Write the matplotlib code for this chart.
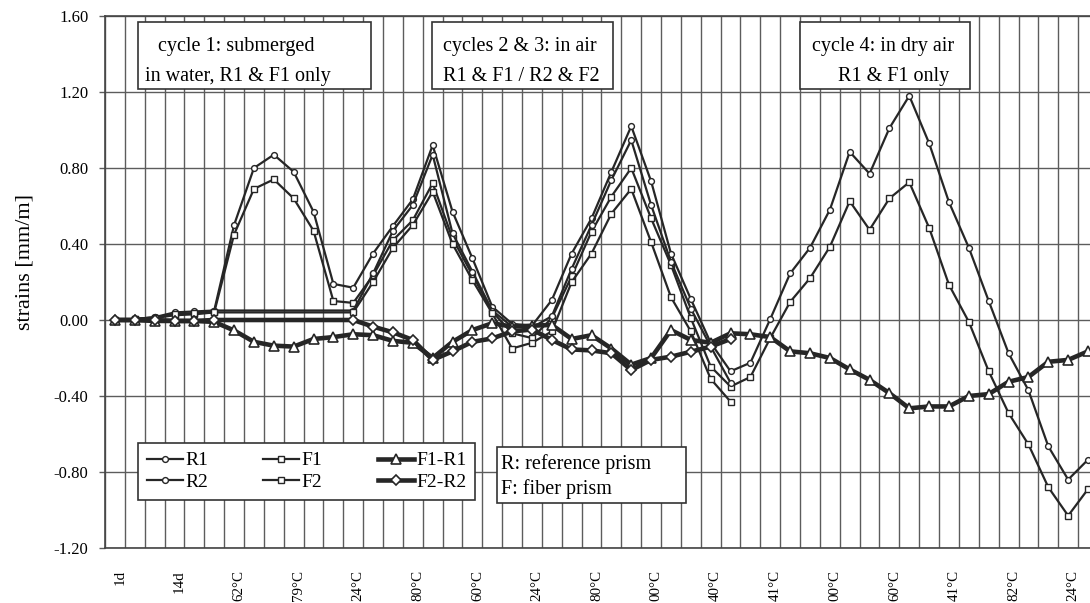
import numpy as np
import matplotlib
matplotlib.use("Agg")
import matplotlib.pyplot as plt
import matplotlib.transforms as mtransforms
from matplotlib.lines import Line2D
from matplotlib.patches import Rectangle
from matplotlib.ticker import FixedLocator

plt.rcParams['font.family'] = ['Liberation Serif', 'DejaVu Serif']

# category labels, one every third reading
x_labels = ['1d', '14d', '62°C', '79°C', '24°C', '80°C', '60°C', '24°C', '80°C',
            '00°C', '40°C', '41°C', '00°C', '60°C', '41°C', '82°C', '24°C']
label_step = 3

nan = np.nan

# strains [mm/m], one value per reading (nan = no measurement, line is connected)
R1 = [0.00, 0.005, 0.015, 0.03, 0.035, 0.05, 0.50, 0.80, 0.87, 0.78,
      0.57, 0.19, 0.17, 0.35, 0.495, 0.635, 0.92, 0.57, 0.325, 0.07,
      -0.02, -0.03, 0.105, 0.35, 0.535, 0.78, 1.02, 0.73, 0.35, 0.11,
      -0.12, -0.27, -0.225, 0.005, 0.245, 0.38, 0.58, 0.885, 0.77, 1.01,
      1.18, 0.93, 0.62, 0.38, 0.10, -0.175, -0.37, -0.665, -0.84, -0.735]
F1 = [0.00, 0.005, 0.01, 0.025, 0.03, 0.04, 0.45, 0.69, 0.74, 0.64,
      0.47, 0.10, 0.09, 0.235, 0.42, 0.525, 0.72, 0.43, 0.237, 0.044,
      -0.07, -0.095, 0.01, 0.23, 0.465, 0.65, 0.80, 0.535, 0.29, 0.01,
      -0.245, -0.35, -0.30, -0.095, 0.095, 0.22, 0.385, 0.625, 0.475, 0.64,
      0.725, 0.485, 0.185, -0.01, -0.27, -0.49, -0.655, -0.88, -1.03, -0.89]
R2 = [0.00, 0.005, 0.015, 0.04, 0.045, 0.05, nan, nan, nan, nan,
      nan, nan, 0.05, 0.245, 0.47, 0.605, 0.87, 0.456, 0.255, 0.05,
      -0.035, -0.04, 0.02, 0.27, 0.50, 0.737, 0.947, 0.605, 0.307, 0.06,
      -0.14, -0.33, nan, nan, nan, nan, nan, nan, nan, nan,
      nan, nan, nan, nan, nan, nan, nan, nan, nan, nan]
F2 = [0.00, 0.005, 0.01, 0.03, 0.035, 0.04, nan, nan, nan, nan,
      nan, nan, 0.04, 0.20, 0.38, 0.50, 0.675, 0.40, 0.21, 0.035,
      -0.15, -0.12, -0.06, 0.20, 0.35, 0.56, 0.69, 0.41, 0.12, -0.06,
      -0.31, -0.43, nan, nan, nan, nan, nan, nan, nan, nan,
      nan, nan, nan, nan, nan, nan, nan, nan, nan, nan]
F1_R1 = [0.00, 0.00, -0.005, -0.005, -0.005, -0.01, -0.055, -0.115, -0.135, -0.14,
         -0.10, -0.09, -0.075, -0.08, -0.11, -0.12, -0.20, -0.115, -0.053, -0.017,
         -0.035, -0.03, -0.026, -0.10, -0.08, -0.15, -0.235, -0.20, -0.053, -0.105,
         -0.12, -0.07, -0.075, -0.09, -0.165, -0.175, -0.20, -0.26, -0.315, -0.385,
         -0.465, -0.455, -0.455, -0.40, -0.39, -0.325, -0.30, -0.22, -0.21, -0.165]
F2_R2 = [0.00, 0.00, 0.00, -0.005, -0.005, 0.00, nan, nan, nan, nan,
         nan, nan, 0.00, -0.035, -0.065, -0.105, -0.21, -0.165, -0.115, -0.097,
         -0.06, -0.05, -0.105, -0.155, -0.16, -0.175, -0.263, -0.21, -0.193, -0.167,
         -0.14, -0.10, nan, nan, nan, nan, nan, nan, nan, nan,
         nan, nan, nan, nan, nan, nan, nan, nan, nan, nan]

W, H = 1090, 603
def fx(x):
    return x / W
def fy(y):
    return 1 - y / H

dark = '#262626'
grid_c = '#5c5c5c'

fig = plt.figure(figsize=(W / 100, H / 100), dpi=100)
ax = fig.add_axes([fx(105), fy(548), fx(1090) - fx(105), fy(16) - fy(548)])

x = np.arange(len(R1))

thin = dict(color=dark, lw=1.6, mfc='white', mec=dark, mew=1.0)
thick = dict(color=dark, lw=3.3, mfc='white', mec=dark, mew=1.2)
series = [
    ('R1', R1, 'o', 4.2, thin),
    ('F1', F1, 's', 3.9, thin),
    ('R2', R2, 'o', 4.2, thin),
    ('F2', F2, 's', 3.9, thin),
    ('F1-R1', F1_R1, '^', 6.5, thick),
    ('F2-R2', F2_R2, 'D', 5.5, thick),
]
for name, vals, mk, ms, st in series:
    y = np.array(vals, dtype=float)
    ok = ~np.isnan(y)
    ax.plot(x[ok], y[ok], marker=mk, ms=ms, label=name, zorder=3, **st)

ax.set_xlim(-0.5, 49.1)
ax.set_ylim(-1.2, 1.6)
yt = np.arange(-1.2, 1.61, 0.4)
ax.set_yticks(yt)
ax.set_yticklabels([f"{v:.2f}" if abs(v) > 1e-9 else "0.00" for v in yt], fontsize=12)
ax.tick_params(axis='y', length=4, width=1, color=grid_c, pad=8)

ax.set_xticks(x[::label_step])
ax.set_xticklabels(x_labels, rotation=90, fontsize=10.8, va='top')
ax.tick_params(axis='x', which='major', length=0, pad=16)
shift = mtransforms.ScaledTranslation(5 / 100, 0, fig.dpi_scale_trans)
for lab in ax.get_xticklabels():
    lab.set_transform(lab.get_transform() + shift)
ax.xaxis.set_minor_locator(FixedLocator(np.arange(-0.5, 50, 1)))
ax.tick_params(axis='x', which='minor', length=0)

ax.grid(which='minor', axis='x', color=grid_c, lw=1.0)
ax.grid(which='major', axis='y', color=grid_c, lw=1.0)
ax.set_axisbelow(True)
for s in ['left', 'bottom', 'top']:
    ax.spines[s].set_color('#444444')
    ax.spines[s].set_linewidth(1.2)
ax.spines['right'].set_visible(False)

fig.text(fx(25), fy(262), 'strains [mm/m]', rotation=90, ha='center', va='center', fontsize=16)

# legend, 2 rows x 3 columns
handles = [
    Line2D([], [], marker='o', ms=4.2, **thin),
    Line2D([], [], marker='o', ms=4.2, **thin),
    Line2D([], [], marker='s', ms=3.9, **thin),
    Line2D([], [], marker='s', ms=3.9, **thin),
    Line2D([], [], marker='^', ms=6.5, **thick),
    Line2D([], [], marker='D', ms=5.5, **thick),
]
names = ['R1', 'R2', 'F1', 'F2', 'F1-R1', 'F2-R2']
leg = ax.legend(handles, names, ncol=3, loc='upper left',
                bbox_to_anchor=(fx(138), fy(443)), bbox_transform=fig.transFigure,
                borderaxespad=0, fontsize=14, frameon=True, fancybox=False,
                framealpha=1, edgecolor='#333333', handlelength=1.85,
                handletextpad=0.12, columnspacing=2.85, labelspacing=0.2,
                borderpad=0.45)
leg.get_frame().set_linewidth(1.2)

# text boxes
def note_box(x0, y0, x1, y1):
    fig.patches.append(Rectangle((fx(x0), fy(y1)), fx(x1) - fx(x0), fy(y0) - fy(y1),
                                 transform=fig.transFigure, fc='white', ec='#333333',
                                 lw=1.2, zorder=2))

def note_text(xp, yp, s):
    fig.text(fx(xp), fy(yp), s, ha='left', va='baseline', fontsize=14.5, zorder=4)

note_box(138, 22, 371, 89)
note_text(158, 51, 'cycle 1: submerged')
note_text(145, 81, 'in water, R1 & F1 only')

note_box(432, 22, 613, 89)
note_text(443, 51, 'cycles 2 & 3: in air')
note_text(443, 81, 'R1 & F1 / R2 & F2')

note_box(800, 22, 970, 89)
note_text(812, 51, 'cycle 4: in dry air')
note_text(838, 81, 'R1 & F1 only')

note_box(497, 447, 686, 503)
note_text(501, 469, 'R: reference prism')
note_text(501, 494, 'F: fiber prism')

fig.savefig('out.png', dpi=100)
